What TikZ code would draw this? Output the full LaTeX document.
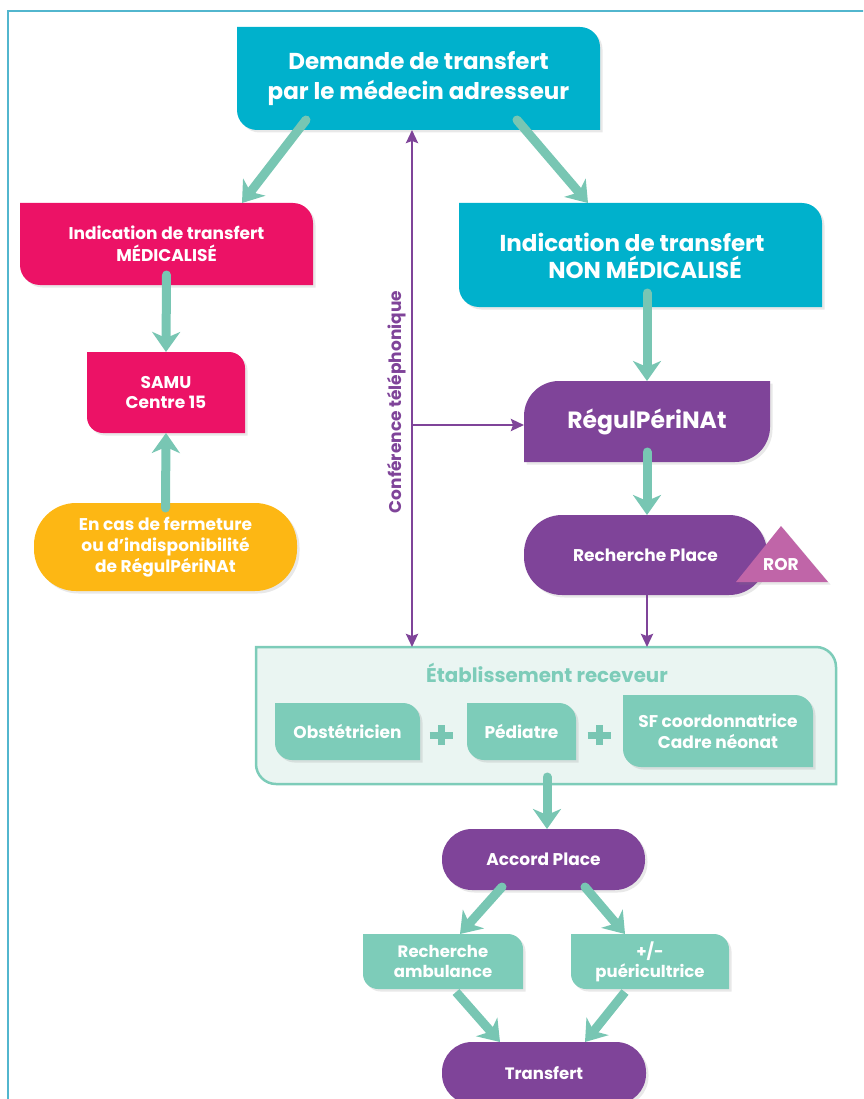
\documentclass[tikz,border=0pt]{standalone}
\usepackage{fontspec}
\setmainfont{Poppins}[Ligatures=NoCommon]
\usetikzlibrary{arrows.meta,shadows}
\pgfdeclarelayer{bg}
\pgfsetlayers{bg,main}
\definecolor{cyanC}{HTML}{00B1CC}
\definecolor{pinkC}{HTML}{EC1266}
\definecolor{yellowC}{HTML}{FDB714}
\definecolor{purpleC}{HTML}{7F4499}
\definecolor{greenC}{HTML}{7DCCB9}
\definecolor{greenA}{HTML}{78C6B3}
\definecolor{lightC}{HTML}{EAF5F2}
\definecolor{rorC}{HTML}{C065A8}
\definecolor{frameC}{HTML}{52B6CE}
\newcommand\leafA[3]{% top-right and bottom-left rounded
  \path[#3] (#1.north west) -- ([xshift=-#2pt]#1.north east) arc[start angle=90,end angle=0,radius=#2pt]
    -- (#1.south east) -- ([xshift=#2pt]#1.south west) arc[start angle=270,end angle=180,radius=#2pt] -- cycle;}
\newcommand\leafB[3]{% top-left and bottom-right rounded
  \path[#3] (#1.south west) -- ([yshift=-#2pt]#1.north west) arc[start angle=180,end angle=90,radius=#2pt]
    -- (#1.north east) -- ([yshift=#2pt]#1.south east) arc[start angle=0,end angle=-90,radius=#2pt] -- cycle;}
\newcommand\pill[3]{\path[#3,rounded corners=#2pt] (#1.north west) rectangle (#1.south east);}
\tikzset{
  box/.style n args={2}{minimum width=#1pt, minimum height=#2pt, inner sep=0pt, outer sep=0pt,
    align=center, text=white, font=\bfseries},
  shad/.style={drop shadow={opacity=.18, shadow xshift=2.5pt, shadow yshift=-2.5pt}},
  garrow/.style={draw=greenA, line width=9pt, line cap=round,
    -{Stealth[length=20pt,width=28pt,inset=6pt]}},
  ptip/.tip={Stealth[length=13pt,width=12pt,inset=2pt]},
  parrow/.style={draw=purpleC, line width=2.6pt, -ptip},
  plusbar/.style={draw=greenA, line width=7pt},
}
\begin{document}
\begin{tikzpicture}[x=1pt,y=1pt]
\useasboundingbox (0,0) rectangle (863,-1099);
\clip (0,0) rectangle (863,-1099);
% frame
\draw[frameC, line width=2.5pt] (8,-1110) -- (8,-11) -- (875,-11);

% nodes
\node[box={363}{103}, font=\bfseries\fontsize{23}{30}\selectfont] (demande) at (418.5,-78.5)
  {Demande de transfert\\par le médecin adresseur};
\node[box={293}{82}, font=\bfseries\fontsize{17}{22}\selectfont] (med) at (166.5,-244)
  {Indication de transfert\\MÉDICALISÉ};
\node[box={363}{104}] (nonmed) at (640.5,-255) {};
\node[align=center, text=white, inner sep=0, font=\bfseries\fontsize{23}{27}\selectfont] (nonmedtxt) at (632,-256)
  {Indication de transfert\\\hspace*{26pt}NON MÉDICALISÉ};
\node[box={158}{81}, font=\bfseries\fontsize{17}{20}\selectfont] (samu) at (166,-392.5)
  {SAMU\\Centre 15};
\node[box={263}{88}, font=\bfseries\fontsize{17}{21}\selectfont] (fermeture) at (165.5,-547)
  {En cas de fermeture\\ou d’indisponibilité\\de RégulPériNAt};
\node[box={246}{81}, font=\bfseries\fontsize{23.5}{26}\selectfont] (regul) at (647,-421.5)
  {RégulPériNAt};
\node[box={243}{80}, font=\bfseries\fontsize{17}{20}\selectfont] (place) at (645.5,-555)
  {Recherche Place};
\node[text=white, inner sep=0, font=\bfseries\fontsize{17}{18}\selectfont] (ror) at (781,-565) {ROR};
\node[box={580}{137}] (etab) at (546,-715.5) {};
\node[text=greenC, inner sep=0, font=\bfseries\fontsize{19.8}{22}\selectfont] (etabtitle) at (547,-673)
  {Établissement receveur};
\node[box={145}{57}, font=\bfseries\fontsize{17}{20}\selectfont] (obst) at (347.5,-731.5) {Obstétricien};
\node[box={109}{57}, font=\bfseries\fontsize{17}{20}\selectfont] (ped) at (521.5,-731.5) {Pédiatre};
\node[box={190}{72}, font=\bfseries\fontsize{17}{21}\selectfont] (sf) at (718,-731)
  {SF coordonnatrice\\Cadre néonat};
\node[inner sep=0, minimum size=1pt] (plusA) at (441,-735) {};
\node[inner sep=0, minimum size=1pt] (plusB) at (599,-735) {};
\node[box={203}{61}, font=\bfseries\fontsize{17}{20}\selectfont] (accord) at (543.5,-859.5) {Accord Place};
\node[box={160}{55}, font=\bfseries\fontsize{16.5}{20}\selectfont] (amb) at (443,-961.5)
  {Recherche\\ambulance};
\node[box={158}{55}, font=\bfseries\fontsize{16.5}{20}\selectfont] (puer) at (650,-961.5)
  {+/-\\puéricultrice};
\node[box={204}{62}, font=\bfseries\fontsize{16.5}{20}\selectfont] (transfert) at (544,-1073) {Transfert};
\node[rotate=90, text=purpleC, inner sep=0, font=\bfseries\fontsize{17}{18}\selectfont] (conf) at (397,-402)
  {Conférence téléphonique};
\coordinate (junc) at (412,-425);

% shapes
\begin{pgfonlayer}{bg}
  \leafA{demande}{20}{fill=cyanC, shad}
  \leafA{med}{20}{fill=pinkC, shad}
  \leafA{nonmed}{20}{fill=cyanC, shad}
  \leafA{samu}{16}{fill=pinkC, shad}
  \pill{fermeture}{42}{fill=yellowC, shad}
  \leafB{regul}{35}{fill=purpleC, shad}
  \pill{place}{38}{fill=purpleC, shad}
  \path[fill=rorC, shad] ([shift={(0,39)}]ror.center) -- ([shift={(-45,-17)}]ror.center)
     -- ([shift={(47,-17)}]ror.center) -- cycle;
  \leafA{etab}{20}{fill=lightC, draw=greenC, line width=2.5pt}
  \leafA{obst}{17}{fill=greenC, shad}
  \leafA{ped}{17}{fill=greenC, shad}
  \leafA{sf}{18}{fill=greenC, shad}
  \pill{accord}{30}{fill=purpleC, shad}
  \leafA{amb}{15}{fill=greenC, shad}
  \leafA{puer}{15}{fill=greenC, shad}
  \pill{transfert}{30}{fill=purpleC, shad}
\end{pgfonlayer}

% plus signs
\draw[plusbar] ([xshift=-11.5pt]plusA.center) -- ([xshift=11.5pt]plusA.center);
\draw[plusbar] ([yshift=-10pt]plusA.center) -- ([yshift=10pt]plusA.center);
\draw[plusbar] ([xshift=-11.5pt]plusB.center) -- ([xshift=11.5pt]plusB.center);
\draw[plusbar] ([yshift=-10pt]plusB.center) -- ([yshift=10pt]plusB.center);

% green connectors
\draw[garrow] ([shift={(-112.5,10)}]demande.south) -- ([xshift=75.5pt]med.north);
\draw[garrow] ([shift={(98.5,10)}]demande.south) -- ([xshift=-52.5pt]nonmed.north);
\draw[garrow] ([yshift=10pt]med.south) -- (samu.north);
\draw[garrow] ([yshift=-5pt]fermeture.north) -- (samu.south);
\draw[garrow] ([shift={(6.5,14)}]nonmed.south) -- (regul.north);
\draw[garrow] ([yshift=10pt]regul.south) -- ([xshift=1.5pt]place.north);
\draw[garrow] ([shift={(1,7)}]etab.south) -- ([xshift=3.5pt]accord.north);
\draw[garrow] ([shift={(-41.5,3)}]accord.south) -- ([xshift=17pt]amb.north);
\draw[garrow] ([shift={(41.5,3)}]accord.south) -- ([xshift=-25pt]puer.north);
\draw[garrow, line cap=butt] ([shift={(13,-3)}]amb.south) -- ([xshift=-44pt]transfert.north);
\draw[garrow, line cap=butt] ([shift={(-25,-3)}]puer.south) -- ([xshift=41pt]transfert.north);

% purple connectors
\draw[parrow, ptip-ptip] ([xshift=-6.5pt]demande.south) -- ([xshift=-134pt]etab.north);
\draw[parrow] (junc) -- ([yshift=-3.5pt]regul.west);
\draw[parrow] ([xshift=1.5pt]place.south) -- ([xshift=101pt]etab.north);
\end{tikzpicture}
\end{document}
